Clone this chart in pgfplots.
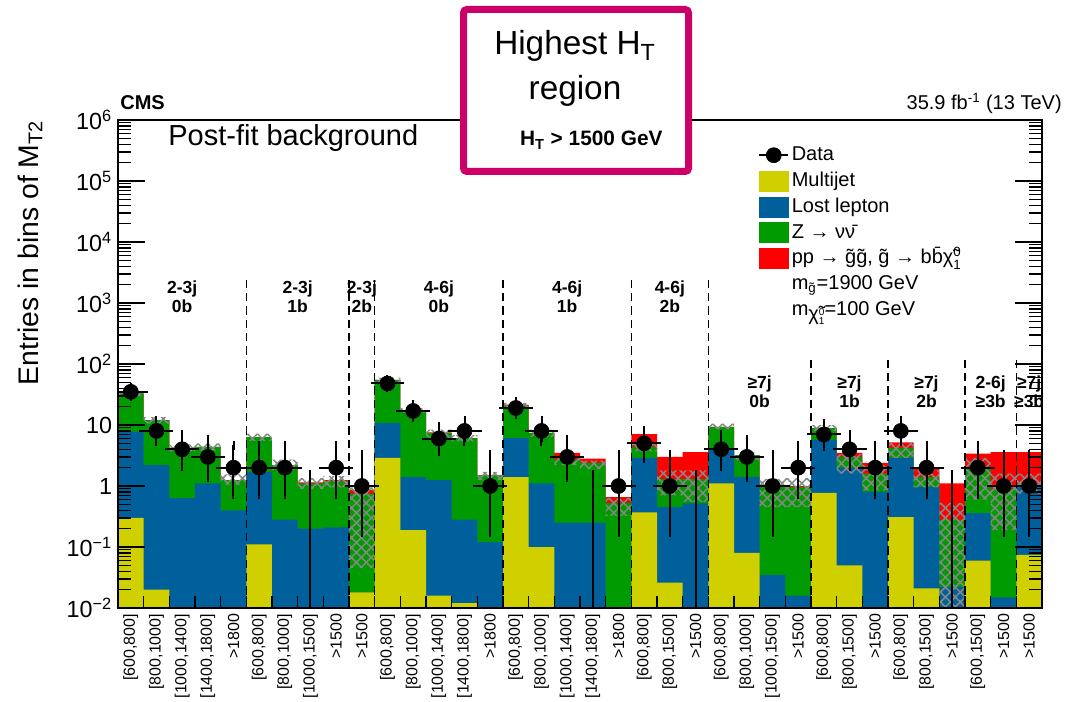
\documentclass[border=0pt]{standalone}
\usepackage{fontspec}
\setmainfont{Liberation Sans}
\usepackage{pgfplots}
\pgfplotsset{compat=1.18}
\usepackage{pgfplotstable}
\usetikzlibrary{patterns.meta}

\definecolor{mjc}{RGB}{208,208,0}
\definecolor{llc}{RGB}{0,96,156}
\definecolor{znc}{RGB}{0,155,0}
\definecolor{sgc}{RGB}{255,0,0}
\definecolor{hlc}{RGB}{204,0,102}
\definecolor{hatchc}{RGB}{135,135,135}

\pgfplotsset{sepline/.style={black, line width=0.9pt, dash pattern=on 5pt off 3pt, forget plot}}
\tikzset{grp/.style={align=center, font=\bfseries\fontsize{10.5}{11.4}\selectfont}}
\newcommand{\neut}{χ̃\rlap{\raisebox{4.5pt}{\fontsize{8}{8}\selectfont 0}}\raisebox{-3.5pt}{\fontsize{8}{8}\selectfont 1}}
\newcommand{\neutsub}{χ̃\rlap{\raisebox{3pt}{\fontsize{6}{6}\selectfont 0}}\raisebox{-2.5pt}{\fontsize{6}{6}\selectfont 1}}

% cumulative stack tops per bin (left edge x); last two rows close the area at the bottom
\pgfplotstableread{
x mj ll z sig
0 0.30 7.7 33 33
1 0.02 2.2 12 12
2 0.001 0.63 4.2 4.2
3 0.001 1.1 4.4 4.4
4 0.001 0.4 1.25 1.25
5 0.11 1.7 6.3 6.3
6 0.001 0.28 2.2 2.2
7 0.001 0.2 1.1 1.15
8 0.001 0.21 1.2 1.25
9 0.018 0.018 0.75 0.86
10 2.9 10.8 55 55
11 0.19 1.4 17.6 17.6
12 0.016 1.25 7.4 7.6
13 0.012 0.28 6.1 6.1
14 0.001 0.12 1.5 1.5
15 1.4 6.1 21 21.5
16 0.1 1.1 7.4 7.4
17 0.001 0.25 2.7 3.5
18 0.001 0.25 2.4 2.8
19 0.001 0.001 0.53 0.66
20 0.37 2.9 4.4 7.1
21 0.026 0.45 1.3 3.0
22 0.001 0.52 1.3 3.6
23 1.1 3.9 9.3 9.3
24 0.08 1.4 3.2 3.2
25 0.001 0.035 0.96 0.98
26 0.001 0.016 0.96 1.0
27 0.77 5.7 8.9 8.9
28 0.05 2.0 3.0 3.5
29 0.001 0.8 1.6 2.4
30 0.31 2.9 4.2 5.2
31 0.021 0.96 1.4 2.0
32 0.001 0.022 0.28 1.1
33 0.06 0.36 2.0 3.4
34 0.001 0.015 0.9 3.6
35 0.074 1.0 1.05 3.6
36 0.074 1.0 1.05 3.6
36 0.001 0.001 0.001 0.001
0 0.001 0.001 0.001 0.001
}\stack

% background uncertainty band: upper edge left to right, then lower edge right to left
\pgfplotstableread{
x y
0 36
1 13.5
2 4.8
3 5.0
4 1.55
5 7.2
6 2.7
7 1.35
8 1.45
9 0.95
10 60
11 19
12 8.4
13 6.9
14 1.7
15 23
16 8.4
17 3.0
18 2.6
19 0.64
20 5.2
21 1.8
22 1.8
23 10.5
24 3.6
25 1.3
26 1.35
27 10.0
28 3.3
29 2.2
30 5.1
31 1.8
32 0.53
33 2.9
34 1.6
35 1.6
36 1.6
36 0.75
35 0.19
34 0.6
33 0.01
32 0.95
31 2.9
30 0.85
29 1.6
28 8.0
27 0.45
26 0.45
25 2.7
24 8.5
23 0.55
22 0.7
21 3.7
20 0.32
19 1.9
18 2.2
17 6.4
16 19
15 1.25
14 5.4
13 6.2
12 16
11 50
10 0.045
9 0.95
8 0.9
7 1.85
6 5.5
5 1.05
4 3.8
3 3.7
2 10.5
1 30
0 30
}\band

\pgfplotstableread{
x y em ep
0.5 35 5.88 6.97
1.5 8 2.77 3.94
2.5 4 1.91 3.16
3.5 3 1.63 2.92
4.5 2 1.29 2.64
5.5 2 1.29 2.64
6.5 2 1.29 2.64
8.5 2 1.29 2.64
9.5 1 0.83 2.30
10.5 48 6.90 7.98
11.5 17 4.08 5.20
12.5 6 2.38 3.58
13.5 8 2.77 3.94
14.5 1 0.83 2.30
15.5 19 4.33 5.44
16.5 8 2.77 3.94
17.5 3 1.63 2.92
19.5 1 0.83 2.30
20.5 5 2.16 3.38
21.5 1 0.83 2.30
23.5 4 1.91 3.16
24.5 3 1.63 2.92
25.5 1 0.83 2.30
26.5 2 1.29 2.64
27.5 7 2.58 3.77
28.5 4 1.91 3.16
29.5 2 1.29 2.64
30.5 8 2.77 3.94
31.5 2 1.29 2.64
33.5 2 1.29 2.64
34.5 1 0.83 2.30
35.5 1 0.83 2.30
}\data

\pgfplotstableread{
x y em ep
7.5 0.001 0 1.84
18.5 0.001 0 1.84
22.5 0.001 0 1.84
32.5 0.001 0 1.84
}\zero

\begin{document}
\begin{tikzpicture}
\useasboundingbox (-70.8pt,-55.8pt) rectangle (569.4pt,364.8pt);
\begin{axis}[
  at={(0pt,0pt)}, anchor=south west,
  scale only axis, width=554.4pt, height=292.8pt,
  ymode=log, ymin=0.01, ymax=1e6,
  xmin=0, xmax=36,
  axis on top,
  axis line style={line width=0.8pt},
  every tick/.style={black, line width=0.8pt},
  major tick length=16pt, minor tick length=8pt,
  xtick={0.5,1.5,...,35.5},
  xticklabels={{[600,800]},{[800,1000]},{[1000,1400]},{[1400,1800]},{>1800},
    {[600,800]},{[800,1000]},{[1000,1500]},{>1500},
    {>1500},
    {[600,800]},{[800,1000]},{[1000,1400]},{[1400,1800]},{>1800},
    {[600,800]},{[800,1000]},{[1000,1400]},{[1400,1800]},{>1800},
    {[600,800]},{[800,1500]},{>1500},
    {[600,800]},{[800,1000]},{[1000,1500]},{>1500},
    {[600,800]},{[800,1500]},{>1500},
    {[600,800]},{[800,1500]},{>1500},
    {[600,1500]},{>1500},
    {>1500}},
  xtick style={draw=none},
  xticklabel style={rotate=90, anchor=east, font=\fontsize{9.6}{9.6}\selectfont},
  ytick={0.01,0.1,1,10,100,1000,10000,100000,1000000},
  yticklabels={10\textsuperscript{−2},10\textsuperscript{−1},1,10,10\textsuperscript{2},10\textsuperscript{3},10\textsuperscript{4},10\textsuperscript{5},10\textsuperscript{6}},
  yticklabel style={font=\fontsize{14}{14}\selectfont},
  ylabel={Entries in bins of M\textsubscript{T2}},
  ylabel style={at={(axis description cs:-0.0952,0.7275)}, anchor=center, font=\fontsize{17}{17}\selectfont},
  legend style={at={(0.6926,0.955)}, anchor=north west, draw=none, fill=none, inner sep=0pt,
    font=\fontsize{12}{14}\selectfont, row sep=0pt,
    nodes={inner sep=1.5pt, text height=9.5pt, text depth=3pt}},
  legend cell align=left,
]
\addlegendimage{legend image code/.code={\draw[black, line width=1.2pt] (0pt,0pt) -- (17.4pt,0pt); \fill[black] (8.7pt,0pt) circle (4.5pt);}}
\addlegendentry{Data}
\addlegendimage{legend image code/.code={\fill[mjc] (0pt,-6pt) rectangle (17.4pt,6pt);}}
\addlegendentry{Multijet}
\addlegendimage{legend image code/.code={\fill[llc] (0pt,-6pt) rectangle (17.4pt,6pt);}}
\addlegendentry{Lost lepton}
\addlegendimage{legend image code/.code={\fill[znc] (0pt,-6pt) rectangle (17.4pt,6pt);}}
\addlegendentry{Z → νν̄}
\addlegendimage{legend image code/.code={\fill[sgc] (0pt,-6pt) rectangle (17.4pt,6pt);}}
\addlegendentry{pp → g̃g̃, g̃ → bb̄\neut}
\addlegendimage{empty legend}
\addlegendentry{m\textsubscript{g̃}=1900 GeV}
\addlegendimage{empty legend}
\addlegendentry{m\raisebox{-3pt}{\neutsub}=100 GeV}

% stacked backgrounds + signal (cumulative tops)
\addplot[const plot mark left, fill=sgc, draw=none, forget plot] table[x=x, y=sig] {\stack};
\addplot[const plot mark left, fill=znc, draw=none, forget plot] table[x=x, y=z] {\stack};
\addplot[const plot mark left, fill=llc, draw=none, forget plot] table[x=x, y=ll] {\stack};
\addplot[const plot mark left, fill=mjc, draw=none, forget plot] table[x=x, y=mj] {\stack};

% uncertainty hatch
\addplot[const plot mark left, draw=none, forget plot,
  pattern={Hatch[angle=45,distance=4.2pt,line width=0.9pt]}, pattern color=hatchc] table[x=x, y=y] {\band};

% group labels
\node[grp] at (axis cs:2.5,1280) {2-3j\\0b};
\node[grp] at (axis cs:7,1280) {2-3j\\1b};
\node[grp] at (axis cs:9.5,1280) {2-3j\\2b};
\node[grp] at (axis cs:12.5,1280) {4-6j\\0b};
\node[grp] at (axis cs:17.5,1280) {4-6j\\1b};
\node[grp] at (axis cs:21.5,1280) {4-6j\\2b};
\node[grp] at (axis cs:25,34.7) {≥7j\\0b};
\node[grp] at (axis cs:28.5,34.7) {≥7j\\1b};
\node[grp] at (axis cs:31.5,34.7) {≥7j\\2b};
\node[grp] at (axis cs:34,34.7) {2-6j\\≥3b};
\node[grp] at (axis cs:35.5,34.7) {≥7j\\≥3b};

% separators
\addplot[sepline] coordinates {(5,0.01) (5,2400)};
\addplot[sepline] coordinates {(9,0.01) (9,2400)};
\addplot[sepline] coordinates {(10,0.01) (10,2400)};
\addplot[sepline] coordinates {(15,0.01) (15,2400)};
\addplot[sepline] coordinates {(20,0.01) (20,2400)};
\addplot[sepline] coordinates {(23,0.01) (23,2400)};
\addplot[sepline] coordinates {(27,0.01) (27,130)};
\addplot[sepline] coordinates {(30,0.01) (30,130)};
\addplot[sepline] coordinates {(33,0.01) (33,130)};
\addplot[sepline] coordinates {(35,0.01) (35,130)};

% bin-edge ticks
\pgfplotsinvokeforeach{1,...,35}{\draw[black, line width=0.8pt] (axis cs:#1,0.01) -- ++(0pt,7pt);}

% data
\addplot[only marks, mark=*, mark size=4.5pt, black, forget plot,
  error bars/.cd, x dir=both, x fixed=0.5, y dir=both, y explicit,
  error bar style={line width=1.2pt, black},
  error mark options={line width=1.2pt, mark size=2.5pt, black}]
  table[x=x, y=y, y error plus=ep, y error minus=em] {\data};
\addplot[draw=none, mark=none, forget plot,
  error bars/.cd, y dir=plus, y explicit, error mark=none,
  error bar style={line width=1.2pt, black}]
  table[x=x, y=y, y error plus=ep, y error minus=em] {\zero};
\end{axis}

\node[anchor=base west, inner sep=0pt, font=\bfseries\fontsize{12}{12}\selectfont] at (1.2pt,298.8pt) {CMS};
\node[anchor=base east, inner sep=0pt, font=\fontsize{12}{12}\selectfont] at (566.4pt,298.8pt) {35.9 fb\textsuperscript{-1} (13 TeV)};
\node[anchor=base west, inner sep=0pt, font=\fontsize{17.4}{17.4}\selectfont] at (30pt,277.2pt) {Post-fit background};
\draw[hlc, line width=4.2pt, fill=white, rounded corners=2pt] (207.3pt,261.9pt) rectangle (342.3pt,359.1pt);
\node[anchor=base, font=\fontsize{20}{20}\selectfont] at (274.2pt,331.8pt) {Highest H\textsubscript{T}};
\node[anchor=base, font=\fontsize{20}{20}\selectfont] at (274.2pt,304.8pt) {region};
\node[anchor=base, font=\bfseries\fontsize{12.5}{12.5}\selectfont] at (284pt,277.2pt) {H\textsubscript{T} > 1500 GeV};
\end{tikzpicture}
\end{document}
